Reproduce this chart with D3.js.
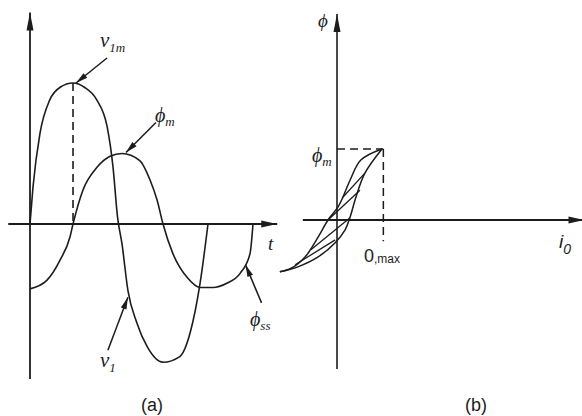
<!DOCTYPE html>
<html>
<head>
<meta charset="utf-8">
<script src="https://cdn.jsdelivr.net/npm/d3@7"></script>
<style>
  body { margin: 0; background: #fff; }
  svg { display: block; }
</style>
</head>
<body>
<svg id="chart" width="582" height="416"></svg>
<script>
// ---------- (a) applied voltage and core flux against time ----------
// angle in electrical degrees, values per unit of v1m
const v1Angle  = [0, 6, 20, 40, 61, 87, 110, 135, 156, 168, 177, 186, 198, 216, 237, 269, 303, 324, 344, 360];
const v1Value  = [0, 0.26, 0.64, 0.88, 0.97, 1.0, 0.97, 0.88, 0.69, 0.40, 0.05, -0.14, -0.47, -0.70, -0.87, -0.98, -0.94, -0.77, -0.42, 0];
const phiAngle = [0, 34, 61, 81, 87, 107, 135, 162, 186, 222, 243, 257, 269, 289, 318, 344, 370, 398, 425, 445, 451];
const phiValue = [-0.46, -0.40, -0.255, -0.09, 0, 0.24, 0.40, 0.48, 0.50, 0.45, 0.31, 0.17, 0, -0.21, -0.38, -0.45, -0.45, -0.42, -0.35, -0.21, 0];
const timeAxisExtent = [-44, 500];
const voltAxisExtent = [-1.1, 1.5];

// ---------- (b) flux against no-load current (hysteresis loop) ----------
// i0 per unit of i0,max, flux per unit of phi_m; both branches run tip -> lower end
const loopUpperI   = [1, 0.53, 0.29, 0.13, 0.02, -0.2, -0.42, -0.71, -1.02, -1.27];
const loopUpperPhi = [1, 0.845, 0.56, 0.32, 0.18, 0, -0.24, -0.52, -0.68, -0.73];
const loopLowerI   = [1, 0.62, 0.42, 0.29, 0.18, -0.04, -0.42, -0.87, -1.27];
const loopLowerPhi = [1, 0.66, 0.32, 0.04, -0.14, -0.32, -0.52, -0.66, -0.73];
// hatching strokes inside the loop: [i, phi] start and end
const hatchStart = [[-0.2, 0], [-0.58, -0.42], [-0.93, -0.63], [0.13, 0.32]];
const hatchEnd   = [[0.51, 0.42], [0.29, 0.03], [-0.04, -0.28], [0.62, 0.66]];
const currentAxisExtent = [-0.76, 5.5];
const fluxAxisExtent = [-2.1, 2.9];

const ink = "#1c1c1c";
const svg = d3.select("#chart");

// ---------- scales ----------
const xa = d3.scaleLinear().domain([0, 360]).range([30, 208]);
const ya = d3.scaleLinear().domain([0, 1]).range([224, 83]);
const xb = d3.scaleLinear().domain([0, 1]).range([337, 382]);
const yb = d3.scaleLinear().domain([0, 1]).range([220, 149]);

// ---------- helpers ----------
function arrowHead(g, x1, y1, x2, y2, len, half) {
  const a = Math.atan2(y2 - y1, x2 - x1);
  const bx = x2 - len * Math.cos(a), by = y2 - len * Math.sin(a);
  const px = -Math.sin(a) * half, py = Math.cos(a) * half;
  g.append("path")
    .attr("d", `M${x2},${y2}L${bx + px},${by + py}L${bx - px},${by - py}Z`)
    .attr("fill", ink).attr("stroke", "none");
}
function arrow(g, x1, y1, x2, y2, len = 12, half = 3, width = 1.5) {
  g.append("line").attr("x1", x1).attr("y1", y1).attr("x2", x2).attr("y2", y2)
    .attr("stroke", ink).attr("stroke-width", width);
  arrowHead(g, x1, y1, x2, y2, len, half);
}
function label(g, x, y, main, sub, opts) {
  const t = g.append("text").attr("x", x).attr("y", y)
    .attr("font-family", opts.family).attr("fill", ink)
    .attr("font-style", opts.italic ? "italic" : "normal");
  t.append("tspan").attr("font-size", opts.size).text(main);
  if (sub) t.append("tspan").attr("font-size", opts.subSize).attr("dy", opts.subDy).text(sub);
  return t;
}
const serif = "'Liberation Serif', 'DejaVu Serif', serif";
const sans = "'Liberation Sans', Arial, sans-serif";

const wave = d3.line().curve(d3.curveMonotoneX);
const loop = d3.line().curve(d3.curveCatmullRom.alpha(0.5));

// ---------- panel (a) ----------
const ga = svg.append("g");
// axes
ga.append("line")
  .attr("x1", xa(0)).attr("x2", xa(0))
  .attr("y1", ya(voltAxisExtent[0])).attr("y2", ya(voltAxisExtent[1]))
  .attr("stroke", ink).attr("stroke-width", 1.8);
arrowHead(ga, xa(0), ya(0), xa(0), ya(voltAxisExtent[1]), 18, 3.5);
ga.append("line")
  .attr("x1", xa(timeAxisExtent[0])).attr("x2", xa(timeAxisExtent[1]))
  .attr("y1", ya(0)).attr("y2", ya(0))
  .attr("stroke", ink).attr("stroke-width", 2);
arrowHead(ga, xa(0), ya(0), xa(timeAxisExtent[1]), ya(0), 16, 3.5);

// v1 peak marker
const iPeak = v1Value.indexOf(d3.max(v1Value));
ga.append("line")
  .attr("x1", xa(v1Angle[iPeak])).attr("x2", xa(v1Angle[iPeak]))
  .attr("y1", ya(v1Value[iPeak])).attr("y2", ya(0))
  .attr("stroke", ink).attr("stroke-width", 1.6).attr("stroke-dasharray", "8,5");

// waveforms
ga.append("path")
  .attr("d", wave(v1Angle.map((a, i) => [xa(a), ya(v1Value[i])])))
  .attr("fill", "none").attr("stroke", ink).attr("stroke-width", 1.6);
ga.append("path")
  .attr("d", wave(phiAngle.map((a, i) => [xa(a), ya(phiValue[i])])))
  .attr("fill", "none").attr("stroke", ink).attr("stroke-width", 1.6);

// annotations
const pk = [xa(v1Angle[iPeak]) + 3, ya(v1Value[iPeak])];
arrow(ga, pk[0] + 31, pk[1] - 25, pk[0], pk[1]);
label(ga, 100, 47, "v", "1m", { family: serif, italic: true, size: 21, subSize: 13, subDy: 5 });

const iPhiPk = phiValue.indexOf(d3.max(phiValue));
const fpk = [xa(phiAngle[iPhiPk]) + 4, ya(phiValue[iPhiPk]) - 1];
arrow(ga, fpk[0] + 30, fpk[1] - 30, fpk[0], fpk[1]);
label(ga, 155, 122, "\u03D5", "m", { family: serif, italic: true, size: 20, subSize: 13, subDy: 4 });

const v1Pt = [xa(200) - 1, ya(-0.52)];
arrow(ga, v1Pt[0] - 20, v1Pt[1] + 53, v1Pt[0], v1Pt[1]);
label(ga, 100, 367, "v", "1", { family: serif, italic: true, size: 21, subSize: 13, subDy: 5 });

const ssPt = [xa(440) - 2, ya(-0.29)];
arrow(ga, ssPt[0] + 16, ssPt[1] + 38, ssPt[0], ssPt[1]);
label(ga, 250, 326, "\u03D5", "ss", { family: serif, italic: true, size: 20, subSize: 13, subDy: 4 });

label(ga, 268, 250, "t", null, { family: serif, italic: true, size: 19 });
ga.append("text").attr("x", 152).attr("y", 411).attr("text-anchor", "middle")
  .attr("font-family", sans).attr("font-size", 18).attr("fill", ink).text("(a)");

// ---------- panel (b) ----------
const gb = svg.append("g");
gb.append("line")
  .attr("x1", xb(0)).attr("x2", xb(0))
  .attr("y1", yb(fluxAxisExtent[0])).attr("y2", yb(fluxAxisExtent[1]))
  .attr("stroke", ink).attr("stroke-width", 1.6);
arrowHead(gb, xb(0), yb(0), xb(0), yb(fluxAxisExtent[1]), 18, 3.5);
gb.append("line")
  .attr("x1", xb(currentAxisExtent[0])).attr("x2", xb(currentAxisExtent[1]))
  .attr("y1", yb(0)).attr("y2", yb(0))
  .attr("stroke", ink).attr("stroke-width", 2);
arrowHead(gb, xb(0), yb(0), xb(currentAxisExtent[1]), yb(0), 16, 3.5);

// dashed guides to the loop tip
gb.append("line")
  .attr("x1", xb(0)).attr("x2", xb(1.03)).attr("y1", yb(1)).attr("y2", yb(1))
  .attr("stroke", ink).attr("stroke-width", 1.5).attr("stroke-dasharray", "8,5");
gb.append("line")
  .attr("x1", xb(1.03)).attr("x2", xb(1.03)).attr("y1", yb(1)).attr("y2", yb(-0.3))
  .attr("stroke", ink).attr("stroke-width", 1.5).attr("stroke-dasharray", "8,5");

// loop branches
gb.append("path")
  .attr("d", loop(loopUpperI.map((v, i) => [xb(v), yb(loopUpperPhi[i])])))
  .attr("fill", "none").attr("stroke", ink).attr("stroke-width", 1.5);
gb.append("path")
  .attr("d", loop(loopLowerI.map((v, i) => [xb(v), yb(loopLowerPhi[i])])))
  .attr("fill", "none").attr("stroke", ink).attr("stroke-width", 1.5);
// hatching
hatchStart.forEach((s, i) => {
  const e = hatchEnd[i];
  gb.append("line")
    .attr("x1", xb(s[0])).attr("y1", yb(s[1])).attr("x2", xb(e[0])).attr("y2", yb(e[1]))
    .attr("stroke", ink).attr("stroke-width", 1.3);
});

label(gb, 318, 27, "\u03D5", null, { family: serif, italic: true, size: 19 });
label(gb, 312, 162, "\u03D5", "m", { family: serif, italic: true, size: 20, subSize: 13, subDy: 4 });
label(gb, 364, 262, "0", ",max", { family: sans, italic: false, size: 18, subSize: 12, subDy: 1 });
label(gb, 559, 248, "i", "0", { family: sans, italic: true, size: 19, subSize: 14, subDy: 6 });
gb.append("text").attr("x", 476).attr("y", 411).attr("text-anchor", "middle")
  .attr("font-family", sans).attr("font-size", 18).attr("fill", ink).text("(b)");
</script>
</body>
</html>
